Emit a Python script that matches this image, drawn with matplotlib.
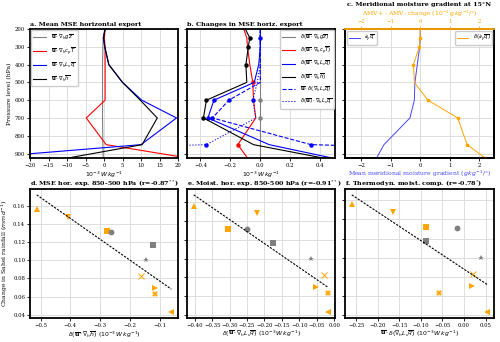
import numpy as np
import matplotlib
matplotlib.use("Agg")
import matplotlib.pyplot as plt

plt.rcParams["font.family"] = "DejaVu Serif"
plt.rcParams["font.size"] = 4.2
plt.rcParams["axes.linewidth"] = 1.3
plt.rcParams["xtick.major.size"] = 2
plt.rcParams["ytick.major.size"] = 2
plt.rcParams["xtick.major.width"] = 0.6
plt.rcParams["ytick.major.width"] = 0.6
plt.rcParams["xtick.labelsize"] = 3.9
plt.rcParams["ytick.labelsize"] = 3.9
plt.rcParams["xtick.major.pad"] = 1.5
plt.rcParams["ytick.major.pad"] = 1.5

# pressure levels (hPa)
levels = [200, 250, 300, 400, 500, 600, 700, 850, 925]

# a. mean MSE horizontal export (1e-3 W/kg)
mean_gz = [0.2, -0.2, -0.3, -0.4, -0.4, -0.4, -0.4, -0.3, -0.2]
mean_cpT = [0.3, 0.1, 0.3, 0.3, 0.3, 0.3, -4.8, 0.6, 22.6]
mean_Lq = [0.3, -0.2, 0.2, 1.3, 5.0, 10.2, 19.6, 10.0, -34.0]
mean_h = [0.3, -0.1, 0.2, 1.3, 5.0, 9.8, 14.4, 10.3, -9.7]

# b. changes in MSE horizontal export
d_gz = [0.0, 0.0, 0.0, 0.0, 0.0, 0.0, 0.0, 0.0, 0.0]
d_cpT = [-0.11, -0.09, -0.085, -0.07, -0.05, -0.045, -0.03, -0.15, -0.085]
d_Lq = [0.0, 0.0, 0.0, -0.01, -0.04, -0.31, -0.35, 0.06, 0.48]
d_h = [-0.10, -0.07, -0.08, -0.096, -0.09, -0.36, -0.38, -0.045, 0.42]
d_dyn = [0.0, 0.0, 0.0, 0.0, 0.0, -0.21, -0.32, 0.34, 3.6]
d_wind = [0.0, 0.0, 0.0, 0.0, -0.02, -0.05, -0.03, -0.36, -3.2]

# levels with significant changes (markers)
sig_gz = [600, 700]
sig_cpT = [500, 850]
sig_Lq = [250, 600, 700]
sig_h = [250, 300, 400, 600, 700]
sig_dyn = [600, 700, 850]
sig_wind = [600, 850]

# c. meridional moisture gradient at 15N
dqdy_mean = [0.0, 0.0, -0.02, -0.1, -0.18, -0.2, -0.35, -1.23, -1.48]
dqdy_change = [0.0, 0.0, -0.03, -0.23, -0.2, 0.26, 1.27, 1.59, 2.2]
sig_dqdy = [250, 300, 400, 600, 700, 850, 925]

# d-f. Sahel rainfall change vs export terms
markers = ["^", "v", "s", "o", "s", "*", "x", ">", "X", "<"]
colors = ["orange", "orange", "orange", "gray", "gray", "gray",
          "orange", "orange", "orange", "orange"]
rain = [0.156, 0.148, 0.132, 0.131, 0.117, 0.100, 0.0825, 0.070, 0.063, 0.043]
mse_exp = [-0.513, -0.409, -0.276, -0.262, -0.121, -0.146, -0.163, -0.114, -0.115, -0.061]
moist_exp = [-0.403, -0.222, -0.306, -0.249, -0.177, -0.066, -0.029, -0.053, -0.017, -0.019]
thermo = [-0.260, -0.165, -0.089, -0.016, -0.089, 0.040, 0.0205, 0.0177, -0.058, 0.054]

ulab = r"\overline{\mathbf{u}}"
unit = r"$10^{-3}\,W\,kg^{-1}$"
lab_fs = 4.4
leg_fs = 3.9

fig = plt.figure(figsize=(5, 3.42), dpi=100)
W, H = 500, 342


def add_ax(x0, y0, x1, y1):
    return fig.add_axes([x0 / W, 1 - y1 / H, (x1 - x0) / W, (y1 - y0) / H])


cols = [(30, 178), (187, 335), (345, 494)]
axa = add_ax(cols[0][0], 29, cols[0][1], 158)
axb = add_ax(cols[1][0], 29, cols[1][1], 158)
axc = add_ax(cols[2][0], 29, cols[2][1], 158)
axd = add_ax(cols[0][0], 189, cols[0][1], 318)
axe = add_ax(cols[1][0], 189, cols[1][1], 318)
axf = add_ax(cols[2][0], 189, cols[2][1], 318)

for ax in [axa, axb, axc, axd, axe, axf]:
    ax.grid(True, color="#dddddd", lw=0.7)
    ax.set_axisbelow(True)

title_kw = dict(fontsize=4.6, fontweight="bold", loc="left", pad=2)

# ---- a ----
axa.plot(mean_gz, levels, color="gray", lw=0.8, label=rf"${ulab}\cdot\nabla_h g\overline{{z}}$")
axa.plot(mean_cpT, levels, color="red", lw=0.8, label=rf"${ulab}\cdot\nabla_h c_p\overline{{T}}$")
axa.plot(mean_Lq, levels, color="blue", lw=0.8, label=rf"${ulab}\cdot\nabla_h L_v\overline{{q}}$")
axa.plot(mean_h, levels, color="black", lw=0.8, label=rf"${ulab}\cdot\nabla_h\overline{{h}}$")
axa.set_xlim(-20, 20)
axa.set_ylim(925, 200)
axa.set_yticks([200, 300, 400, 500, 600, 700, 800, 900])
axa.set_ylabel("Pressure level (hPa)", fontsize=lab_fs, labelpad=2)
axa.set_xlabel(unit, fontsize=lab_fs, labelpad=1)
axa.set_title("a. Mean MSE horizontal export", **title_kw)
axa.legend(loc="upper left", fontsize=leg_fs, handlelength=2.4, borderaxespad=0.2,
           labelspacing=0.7, framealpha=1)

# ---- b ----
series_b = [
    (d_gz, sig_gz, "gray", "-", rf"$\delta({ulab}\cdot\nabla_h g\overline{{z}})$"),
    (d_cpT, sig_cpT, "red", "-", rf"$\delta({ulab}\cdot\nabla_h c_p\overline{{T}})$"),
    (d_Lq, sig_Lq, "blue", "-", rf"$\delta({ulab}\cdot\nabla_h L_v\overline{{q}})$"),
    (d_h, sig_h, "black", "-", rf"$\delta({ulab}\cdot\nabla_h\overline{{h}})$"),
    (d_dyn, sig_dyn, "blue", "--", rf"${ulab}\cdot\delta(\nabla_h L_v\overline{{q}})$"),
    (d_wind, sig_wind, "blue", ":", rf"$\delta({ulab})\cdot\nabla_h L_v\overline{{q}}$"),
]
for vals, sig, c, ls, lab in series_b:
    axb.plot(vals, levels, color=c, ls=ls, lw=0.8, label=lab)
    idx = [levels.index(p) for p in sig]
    axb.plot([vals[i] for i in idx], sig, "o", color=c, ms=2.2, ls="none")
axb.set_xlim(-0.49, 0.5)
axb.set_ylim(925, 200)
axb.set_yticks([200, 300, 400, 500, 600, 700, 800, 900])
axb.set_yticklabels([])
axb.set_xlabel(unit, fontsize=lab_fs, labelpad=1)
axb.set_title("b. Changes in MSE horiz. export", **title_kw)
axb.legend(loc="upper right", fontsize=leg_fs, handlelength=2.4, borderaxespad=0.2,
           labelspacing=0.55, framealpha=1)

# ---- c ----
lc, = axc.plot(dqdy_mean, levels, color="#4444ff", lw=0.7, label=r"$\partial_y\overline{q}$")
axc.set_xlim(-2.55, 2.5)
axc.set_ylim(925, 200)
axc.set_yticks([200, 300, 400, 500, 600, 700, 800, 900])
axc.set_yticklabels([])
axc.set_xticks([-2, -1, 0, 1, 2])
axc.set_xlabel(r"Mean meridional moisture gradient ($g\,kg^{-1}/°$)", color="#4444ff",
               fontsize=lab_fs, labelpad=1)
axc.legend(handles=[lc], loc="upper left", fontsize=leg_fs, borderaxespad=0.3, framealpha=1)
axc2 = axc.twiny()
lo, = axc2.plot(dqdy_change, levels, color="orange", lw=0.7, label=r"$\delta(\partial_y\overline{q})$")
idx = [levels.index(p) for p in sig_dqdy]
axc2.plot([dqdy_change[i] for i in idx], sig_dqdy, "s", color="orange", ms=1.8, ls="none")
axc2.set_xlim(-2.55, 2.5)
axc2.set_ylim(925, 200)
axc2.set_xticks([-2, -1, 0, 1, 2])
axc2.tick_params(axis="x", colors="orange")
axc2.spines["top"].set_color("orange")
axc2.set_xlabel(r"AMV+ - AMV- change ($10^{-2}\,g\,kg^{-1}/°$)", color="orange",
                fontsize=lab_fs, labelpad=2)
axc2.legend(handles=[lo], loc="upper right", fontsize=leg_fs, borderaxespad=0.3, framealpha=1)
axc2.set_title("c. Meridional moisture gradient at 15°N", fontsize=4.6, fontweight="bold", pad=2)

# ---- d-f ----
scatter_panels = [
    (axd, mse_exp, "d. MSE hor. exp. 850-500 hPa (r=-0.87$^{**}$)",
     rf"$\delta({ulab}\cdot\nabla_h\overline{{h}})$ ($10^{{-3}}\,W\,kg^{{-1}}$)"),
    (axe, moist_exp, "e. Moist. hor. exp. 850-500 hPa (r=-0.91$^{**}$)",
     rf"$\delta({ulab}\cdot\nabla_h L_v\overline{{q}})$ ($10^{{-3}}\,W\,kg^{{-1}}$)"),
    (axf, thermo, "f. Thermodyn. moist. comp. (r=-0.78$^{*}$)",
     rf"${ulab}\cdot\delta(\nabla_h L_v\overline{{q}})$ ($10^{{-3}}\,W\,kg^{{-1}}$)"),
]
for ax, xs, title, xlab in scatter_panels:
    for x, y, m, c in zip(xs, rain, markers, colors):
        ms = 5.0 if m == "s" else 4.2
        if m == "x":
            ax.plot(x, y, m, color=c, ms=3.8, mew=0.7)
        else:
            ax.plot(x, y, m, color=c, ms=ms, mew=0)
    fit = np.polyfit(xs, rain, 1)
    xx = np.array([min(xs), max(xs)])
    ax.plot(xx, np.polyval(fit, xx), "k--", lw=0.8, dashes=(2, 1.2))
    ax.set_title(title, **title_kw)
    ax.set_xlabel(xlab, fontsize=lab_fs, labelpad=1)
    ax.set_yticks([0.04, 0.06, 0.08, 0.10, 0.12, 0.14, 0.16])
axd.set_ylabel(r"Change in Sahel rainfall ($mm\,d^{-1}$)", fontsize=lab_fs, labelpad=2)
axe.set_yticklabels([])
axf.set_yticklabels([])

fig.savefig("out.png", dpi=100)
